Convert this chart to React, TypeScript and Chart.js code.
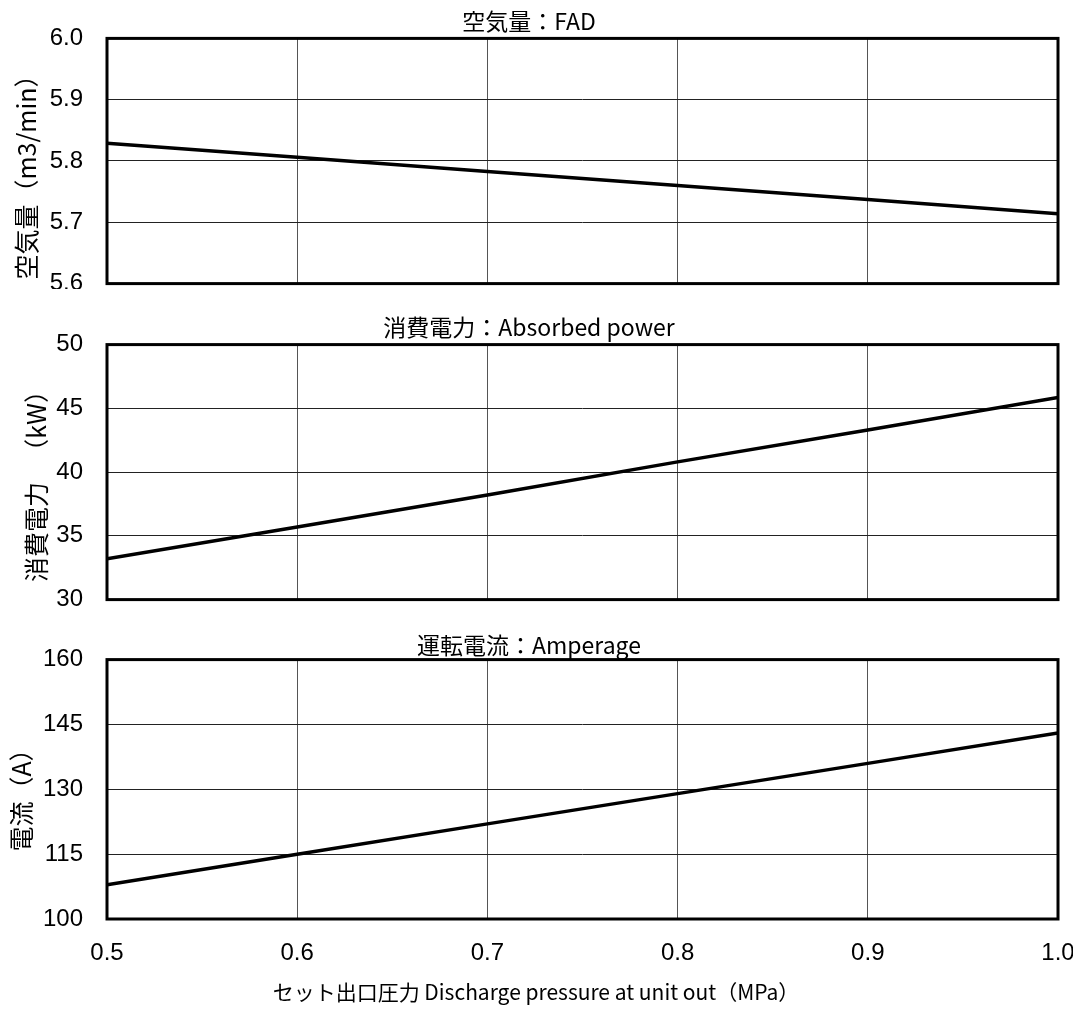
import React, { useEffect, useRef } from "react";
import { Chart, registerables } from "chart.js";

Chart.register(...registerables);

const pressure = [0.5, 0.6, 0.7, 0.8, 0.9, 1.0];
const fadValues = [5.829, 5.806, 5.783, 5.76, 5.737, 5.714];
const powerValues = [33.2, 35.7, 38.2, 40.8, 43.3, 45.85];
const ampValues = [107.9, 115.0, 122.0, 129.0, 136.0, 143.0];

const xTicks = [0.5, 0.6, 0.7, 0.8, 0.9, 1.0];
const fadTicks = [5.6, 5.7, 5.8, 5.9, 6.0];
const powerTicks = [30, 35, 40, 45, 50];
const ampTicks = [100, 115, 130, 145, 160];

const xTitleText = "セット出口圧力 Discharge pressure at unit out（MPa）";

const FONT = "'Liberation Sans', Arial, 'Noto Sans CJK JP', sans-serif";
const JFONT = "'Noto Sans CJK JP', 'Liberation Sans', sans-serif";

const frame = {
  id: "frame",
  afterDatasetsDraw(chart: any) {
    const { ctx, chartArea } = chart;
    ctx.save();
    ctx.strokeStyle = "#000";
    ctx.lineWidth = 3;
    ctx.strokeRect(chartArea.left, chartArea.top, chartArea.right - chartArea.left, chartArea.bottom - chartArea.top);
    ctx.restore();
  },
};

const axisTexts = {
  id: "axisTexts",
  afterDraw(chart: any, _args: any, opts: any) {
    const { ctx } = chart;
    ctx.save();
    ctx.fillStyle = "#000";
    ctx.textAlign = "center";
    ctx.textBaseline = "middle";
    if (opts.yTitle) {
      ctx.save();
      ctx.font = `25px ${JFONT}`;
      ctx.translate(opts.yTitle.x, opts.yTitle.y);
      ctx.rotate(-Math.PI / 2);
      ctx.fillText(opts.yTitle.text, 0, 0);
      ctx.restore();
    }
    if (opts.xTitle) {
      ctx.font = `21px ${JFONT}`;
      ctx.fillText(opts.xTitle.text, opts.xTitle.x, opts.xTitle.y);
    }
    ctx.restore();
  },
};

type PanelProps = {
  title: string;
  yTitle: string;
  yTitleX: number;
  yTitleY: number;
  values: number[];
  yTicks: number[];
  decimals: number;
  showX: boolean;
  height: number;
  bottomPad: number;
  titleTopPad: number;
  titleBottomPad: number;
};

function Panel(p: PanelProps) {
  const ref = useRef<HTMLCanvasElement>(null);
  useEffect(() => {
    if (!ref.current) return;
    const yMin = p.yTicks[0];
    const yMax = p.yTicks[p.yTicks.length - 1];
    const chart = new Chart(ref.current, {
      type: "line",
      data: {
        datasets: [
          {
            data: pressure.map((x, i) => ({ x, y: p.values[i] })),
            borderColor: "#000",
            borderWidth: 3.5,
            pointRadius: 0,
            tension: 0,
          },
        ],
      },
      plugins: [frame, axisTexts],
      options: {
        animation: false,
        responsive: false,
        devicePixelRatio: 1,
        layout: { padding: { left: 0, right: 15, top: 0, bottom: p.bottomPad } },
        plugins: {
          legend: { display: false },
          tooltip: { enabled: false },
          title: {
            display: true,
            text: p.title,
            color: "#000",
            font: { family: JFONT, size: 23, weight: "normal" },
            padding: { top: p.titleTopPad, bottom: p.titleBottomPad },
          },
          axisTexts: {
            yTitle: { text: p.yTitle, x: p.yTitleX, y: p.yTitleY },
            xTitle: p.showX ? { text: xTitleText, x: 536, y: 372 } : null,
          },
        } as any,
        scales: {
          x: {
            type: "linear",
            min: 0.5,
            max: 1.0,
            afterBuildTicks: (s: any) => {
              s.ticks = xTicks.map((v) => ({ value: v }));
            },
            afterFit: (s: any) => {
              s.height = p.showX ? 79 : 0;
              s.paddingLeft = 0;
              s.paddingRight = 0;
            },
            grid: { color: "#555", lineWidth: 1, drawTicks: false },
            border: { display: false },
            ticks: {
              display: p.showX,
              color: "#000",
              padding: 20,
              font: { family: FONT, size: 24 },
              callback: (v: any) => Number(v).toFixed(1),
            },
          },
          y: {
            type: "linear",
            min: yMin,
            max: yMax,
            afterBuildTicks: (s: any) => {
              s.ticks = p.yTicks.map((v) => ({ value: v }));
            },
            afterFit: (s: any) => {
              s.width = 107;
            },
            grid: { color: "#222", lineWidth: 1, drawTicks: false },
            border: { display: false },
            ticks: {
              color: "#000",
              padding: 24,
              font: { family: FONT, size: 24 },
              callback: (v: any) => Number(v).toFixed(p.decimals),
            },
          },
        },
      },
    });
    return () => chart.destroy();
  }, []);
  return <canvas ref={ref} width={1073} height={p.height} style={{ display: "block" }} />;
}

export default function App() {
  return (
    <div style={{ position: "absolute", left: 0, top: 0, width: 1073, height: 1014, background: "#fff" }}>
      <div style={{ position: "absolute", left: 0, top: 0, width: 1073, height: 289, overflow: "hidden" }}>
        <Panel
          title="空気量：FAD"
          yTitle="空気量（m3/min）"
          yTitleX={26}
          yTitleY={171}
          values={fadValues}
          yTicks={fadTicks}
          decimals={1}
          showX={false}
          height={322}
          bottomPad={14}
          titleTopPad={6}
          titleBottomPad={3}
        />
      </div>
      <div style={{ position: "absolute", left: 0, top: 300, width: 1073, height: 314, overflow: "hidden" }}>
        <Panel
          title="消費電力：Absorbed power"
          yTitle="消費電力 　（kW）"
          yTitleX={36}
          yTitleY={180}
          values={powerValues}
          yTicks={powerTicks}
          decimals={0}
          showX={false}
          height={338}
          bottomPad={14}
          titleTopPad={13}
          titleBottomPad={4}
        />
      </div>
      <div style={{ position: "absolute", left: 0, top: 620, width: 1073, height: 394, overflow: "hidden" }}>
        <Panel
          title="運転電流：Amperage"
          yTitle="電流（A）"
          yTitleX={21}
          yTitleY={174}
          values={ampValues}
          yTicks={ampTicks}
          decimals={0}
          showX={true}
          height={394}
          bottomPad={16}
          titleTopPad={11}
          titleBottomPad={1}
        />
      </div>
    </div>
  );
}
